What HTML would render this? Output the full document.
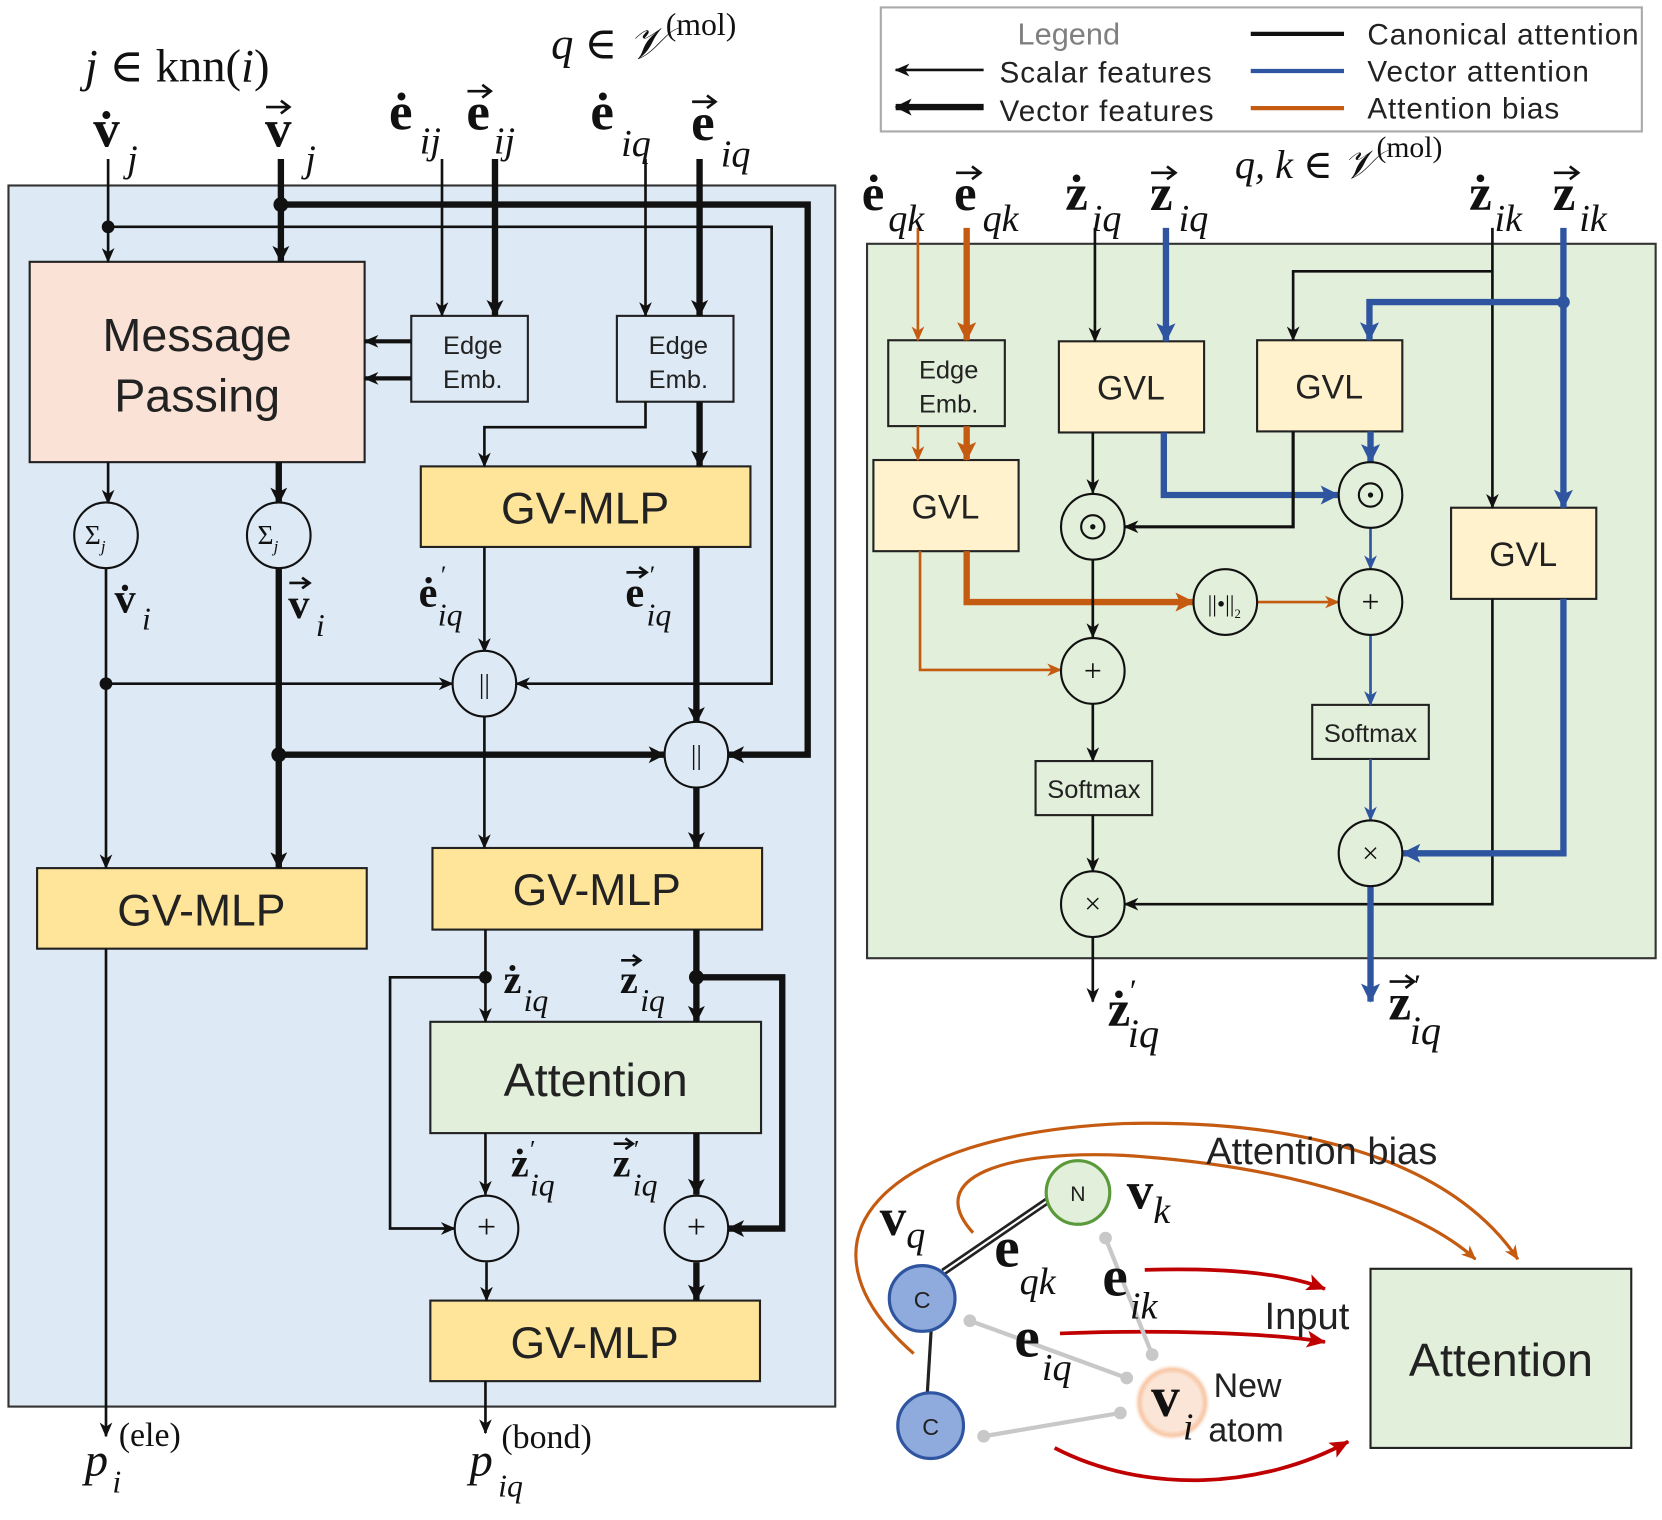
<!DOCTYPE html>
<html><head><meta charset="utf-8"><style>
html,body{margin:0;padding:0;background:#fff;}
svg{display:block;}
.s{font-family:"Liberation Sans",sans-serif;fill:#222;}
.m{font-family:"Liberation Serif","DejaVu Serif",serif;fill:#111;}
.b{font-weight:bold;}
.i{font-style:italic;}
.va{fill:none;stroke:#111;stroke-width:2.5;}
</style></head><body>
<svg width="1662" height="1520" viewBox="0 0 1568 1434" preserveAspectRatio="none" xmlns="http://www.w3.org/2000/svg">
<defs>
<marker id="a" markerUnits="userSpaceOnUse" markerWidth="14" markerHeight="12" refX="13" refY="6" orient="auto"><path d="M0,0 L14,6 L0,12 L4,6 Z" fill="#111"/></marker>
<marker id="A" markerUnits="userSpaceOnUse" markerWidth="16" markerHeight="16" refX="15" refY="8" orient="auto"><path d="M0,0 L16,8 L0,16 L4,8 Z" fill="#111"/></marker>
<marker id="bl" markerUnits="userSpaceOnUse" markerWidth="14" markerHeight="12" refX="13" refY="6" orient="auto"><path d="M0,0 L14,6 L0,12 L4,6 Z" fill="#2f55a0"/></marker>
<marker id="BL" markerUnits="userSpaceOnUse" markerWidth="18" markerHeight="18" refX="17" refY="9" orient="auto"><path d="M0,0 L18,9 L0,18 L4,9 Z" fill="#2f55a0"/></marker>
<marker id="or" markerUnits="userSpaceOnUse" markerWidth="14" markerHeight="12" refX="13" refY="6" orient="auto"><path d="M0,0 L14,6 L0,12 L4,6 Z" fill="#c55a11"/></marker>
<marker id="OR" markerUnits="userSpaceOnUse" markerWidth="18" markerHeight="18" refX="17" refY="9" orient="auto"><path d="M0,0 L18,9 L0,18 L4,9 Z" fill="#c55a11"/></marker>
<marker id="rd" markerUnits="userSpaceOnUse" markerWidth="18" markerHeight="16" refX="17" refY="8" orient="auto"><path d="M0,0 L18,8 L0,16 L4,8 Z" fill="#c00000"/></marker>
<radialGradient id="glow"><stop offset="0.75" stop-color="#fbe5d6"/><stop offset="0.88" stop-color="#f4b183" stop-opacity="0.7"/><stop offset="1" stop-color="#fbe5d6" stop-opacity="0"/></radialGradient>
</defs>

<!-- LEFT PANEL -->
<rect x="8" y="175" width="780" height="1152" fill="#dde9f5" stroke="#333" stroke-width="2"/>
<rect x="28" y="247" width="316" height="189" fill="#fae3d6" stroke="#222" stroke-width="2"/>
<text class="s" x="186" y="331" font-size="44" text-anchor="middle">Message</text>
<text class="s" x="186" y="388" font-size="44" text-anchor="middle">Passing</text>
<rect x="388" y="298" width="110" height="81" fill="#dde9f5" stroke="#222" stroke-width="2"/>
<text class="s" x="446" y="334" font-size="24" text-anchor="middle">Edge</text>
<text class="s" x="446" y="366" font-size="24" text-anchor="middle">Emb.</text>
<rect x="582" y="298" width="110" height="81" fill="#dde9f5" stroke="#222" stroke-width="2"/>
<text class="s" x="640" y="334" font-size="24" text-anchor="middle">Edge</text>
<text class="s" x="640" y="366" font-size="24" text-anchor="middle">Emb.</text>
<rect x="397" y="440" width="311" height="76" fill="#fee599" stroke="#222" stroke-width="2"/>
<text class="s" x="552" y="494" font-size="42" text-anchor="middle">GV-MLP</text>
<rect x="35" y="819" width="311" height="76" fill="#fee599" stroke="#222" stroke-width="2"/>
<text class="s" x="190" y="873" font-size="42" text-anchor="middle">GV-MLP</text>
<rect x="408" y="800" width="311" height="77" fill="#fee599" stroke="#222" stroke-width="2"/>
<text class="s" x="563" y="854" font-size="42" text-anchor="middle">GV-MLP</text>
<rect x="406" y="964" width="312" height="105" fill="#e2efda" stroke="#222" stroke-width="2"/>
<text class="s" x="562" y="1034" font-size="44" text-anchor="middle">Attention</text>
<rect x="406" y="1227" width="311" height="76" fill="#fee599" stroke="#222" stroke-width="2"/>
<text class="s" x="561" y="1281" font-size="42" text-anchor="middle">GV-MLP</text>

<g fill="none" stroke="#111">
<line x1="102" y1="150" x2="102" y2="247" stroke-width="2.5" marker-end="url(#a)"/>
<line x1="265" y1="150" x2="265" y2="247" stroke-width="6" marker-end="url(#A)"/>
<polyline points="102,214 728,214 728,645 487,645" stroke-width="2.5" marker-end="url(#a)"/>
<polyline points="265,193 762,193 762,712 687,712" stroke-width="6" marker-end="url(#A)"/>
<line x1="417" y1="150" x2="417" y2="298" stroke-width="2.5" marker-end="url(#a)"/>
<line x1="467" y1="150" x2="467" y2="298" stroke-width="6" marker-end="url(#A)"/>
<line x1="609" y1="150" x2="609" y2="298" stroke-width="2.5" marker-end="url(#a)"/>
<line x1="660" y1="150" x2="660" y2="298" stroke-width="6" marker-end="url(#A)"/>
<line x1="388" y1="322" x2="344" y2="322" stroke-width="4" marker-end="url(#a)"/>
<line x1="388" y1="357" x2="344" y2="357" stroke-width="4" marker-end="url(#a)"/>
<polyline points="609,379 609,403 457,403 457,440" stroke-width="2.5" marker-end="url(#a)"/>
<line x1="660" y1="379" x2="660" y2="440" stroke-width="6" marker-end="url(#A)"/>
<line x1="102" y1="436" x2="102" y2="475" stroke-width="2.5" marker-end="url(#a)"/>
<line x1="263" y1="436" x2="263" y2="475" stroke-width="6" marker-end="url(#A)"/>
<line x1="100" y1="535" x2="100" y2="819" stroke-width="2.5" marker-end="url(#a)"/>
<line x1="100" y1="645" x2="427" y2="645" stroke-width="2.5" marker-end="url(#a)"/>
<line x1="263" y1="535" x2="263" y2="819" stroke-width="6" marker-end="url(#A)"/>
<line x1="263" y1="712" x2="627" y2="712" stroke-width="6" marker-end="url(#A)"/>
<line x1="457" y1="516" x2="457" y2="615" stroke-width="2.5" marker-end="url(#a)"/>
<line x1="657" y1="516" x2="657" y2="682" stroke-width="6" marker-end="url(#A)"/>
<line x1="457" y1="675" x2="457" y2="800" stroke-width="2.5" marker-end="url(#a)"/>
<line x1="657" y1="742" x2="657" y2="800" stroke-width="6" marker-end="url(#A)"/>
<line x1="458" y1="877" x2="458" y2="964" stroke-width="2.5" marker-end="url(#a)"/>
<polyline points="458,922 368,922 368,1159 429,1159" stroke-width="2.5" marker-end="url(#a)"/>
<line x1="657" y1="877" x2="657" y2="964" stroke-width="6" marker-end="url(#A)"/>
<polyline points="657,922 738,922 738,1159 687,1159" stroke-width="6" marker-end="url(#A)"/>
<line x1="458" y1="1069" x2="458" y2="1127" stroke-width="2.5" marker-end="url(#a)"/>
<line x1="657" y1="1069" x2="657" y2="1127" stroke-width="6" marker-end="url(#A)"/>
<line x1="459" y1="1191" x2="459" y2="1227" stroke-width="2.5" marker-end="url(#a)"/>
<line x1="657" y1="1191" x2="657" y2="1227" stroke-width="6" marker-end="url(#A)"/>
<line x1="100" y1="895" x2="100" y2="1355" stroke-width="2.5" marker-end="url(#a)"/>
<line x1="458" y1="1303" x2="458" y2="1352" stroke-width="2.5" marker-end="url(#a)"/>
</g>
<g fill="#111">
<circle cx="102" cy="214" r="6"/><circle cx="265" cy="193" r="7"/>
<circle cx="100" cy="645" r="6"/><circle cx="263" cy="712" r="7"/>
<circle cx="458" cy="922" r="6"/><circle cx="657" cy="922" r="7"/>
</g>
<g fill="#dde9f5" stroke="#111" stroke-width="2">
<ellipse cx="100" cy="505" rx="30" ry="31"/><ellipse cx="263" cy="505" rx="30" ry="31"/>
<ellipse cx="457" cy="645" rx="30" ry="31"/><ellipse cx="657" cy="712" rx="30" ry="31"/>
<ellipse cx="459" cy="1159" rx="30" ry="31"/><ellipse cx="657" cy="1159" rx="30" ry="31"/>
</g>
<g class="m" font-size="26">
<text x="80" y="513">Σ<tspan font-size="16" class="i" dy="8">j</tspan></text>
<text x="243" y="513">Σ<tspan font-size="16" class="i" dy="8">j</tspan></text>
</g>
<text class="m" x="457" y="654" font-size="26" text-anchor="middle">||</text>
<text class="m" x="657" y="721" font-size="26" text-anchor="middle">||</text>
<text class="m" x="459" y="1168" font-size="32" text-anchor="middle">+</text>
<text class="m" x="657" y="1168" font-size="32" text-anchor="middle">+</text>

<!-- left labels -->
<g class="m">
<text x="80" y="77" font-size="44"><tspan class="i">j</tspan> ∈ knn(<tspan class="i">i</tspan>)</text>
<text x="520" y="55" font-size="42"><tspan class="i">q</tspan> ∈ <tspan class="i">𝒱</tspan><tspan font-size="30" dy="-22">(mol)</tspan></text>
<!-- v dot j -->
<text x="88" y="138" font-size="50" class="b">v̇</text><text x="120" y="162" font-size="36" class="i">j</text>
<!-- v vec j -->
<text x="250" y="138" font-size="50" class="b">v</text><text x="288" y="162" font-size="36" class="i">j</text>
<!-- e dot ij -->
<text x="367" y="122" font-size="50" class="b">ė</text><text x="396" y="145" font-size="36" class="i">ij</text>
<text x="440" y="122" font-size="50" class="b">e</text><text x="466" y="145" font-size="36" class="i">ij</text>
<text x="557" y="122" font-size="50" class="b">ė</text><text x="586" y="147" font-size="36" class="i">iq</text>
<text x="652" y="132" font-size="50" class="b">e</text><text x="680" y="157" font-size="36" class="i">iq</text>
<!-- mid -->
<text x="108" y="578" font-size="40" class="b">v̇</text><text x="134" y="594" font-size="30" class="i">i</text>
<text x="272" y="583" font-size="40" class="b">v</text><text x="298" y="600" font-size="30" class="i">i</text>
<text x="395" y="572" font-size="40" class="b">ė</text><text x="416" y="550" font-size="24">′</text><text x="413" y="590" font-size="30" class="i">iq</text>
<text x="590" y="572" font-size="40" class="b">e</text><text x="613" y="550" font-size="24">′</text><text x="610" y="590" font-size="30" class="i">iq</text>
<text x="475" y="937" font-size="38" class="b">ż</text><text x="494" y="954" font-size="30" class="i">iq</text>
<text x="585" y="937" font-size="38" class="b">z</text><text x="604" y="954" font-size="30" class="i">iq</text>
<text x="482" y="1110" font-size="38" class="b">ż</text><text x="500" y="1092" font-size="24">′</text><text x="500" y="1128" font-size="30" class="i">iq</text>
<text x="578" y="1110" font-size="38" class="b">z</text><text x="598" y="1092" font-size="24">′</text><text x="597" y="1128" font-size="30" class="i">iq</text>
<text x="80" y="1392" font-size="44" class="i">p</text><text x="106" y="1408" font-size="30" class="i">i</text>
<text x="112" y="1364" font-size="32">(ele)</text>
<text x="443" y="1392" font-size="44" class="i">p</text><text x="470" y="1412" font-size="30" class="i">iq</text>
<text x="473" y="1366" font-size="32">(bond)</text>
</g>
<g class="va">
<path d="M251,101 H272 M265,95 L273,101 L265,107"/>
<path d="M441,86 H462 M455,80 L463,86 L455,92"/>
<path d="M653,96 H674 M667,90 L675,96 L667,102"/>
<path d="M591,540 H609 M603,535 L610,540 L603,545"/>
<path d="M273,550 H291 M285,545 L292,550 L285,555"/>
<path d="M586,906 H603 M597,901 L604,906 L597,911"/>
<path d="M579,1079 H596 M590,1074 L597,1079 L590,1084"/>
</g>

<!-- LEGEND -->
<rect x="831" y="7" width="718" height="117" fill="#fff" stroke="#aaa" stroke-width="2"/>
<text class="s" x="960" y="42" font-size="29" style="fill:#808080">Legend</text>
<line x1="928" y1="66" x2="845" y2="66" stroke="#111" stroke-width="2.5" marker-end="url(#a)"/>
<line x1="928" y1="101" x2="845" y2="101" stroke="#111" stroke-width="6" marker-end="url(#A)"/>
<text class="s" x="943" y="78" font-size="28" textLength="200">Scalar features</text>
<text class="s" x="943" y="114" font-size="28" textLength="202">Vector features</text>
<line x1="1180" y1="32" x2="1268" y2="32" stroke="#111" stroke-width="4"/>
<line x1="1180" y1="67" x2="1268" y2="67" stroke="#2f55a0" stroke-width="4"/>
<line x1="1180" y1="102" x2="1268" y2="102" stroke="#c55a11" stroke-width="4"/>
<text class="s" x="1290" y="42" font-size="28" textLength="256">Canonical attention</text>
<text class="s" x="1290" y="77" font-size="28" textLength="209">Vector attention</text>
<text class="s" x="1290" y="112" font-size="28" textLength="181">Attention bias</text>

<!-- RIGHT PANEL -->
<rect x="818" y="230" width="744" height="674" fill="#e2efda" stroke="#333" stroke-width="2"/>
<rect x="838" y="321" width="110" height="81" fill="#e2efda" stroke="#222" stroke-width="2"/>
<text class="s" x="895" y="357" font-size="24" text-anchor="middle">Edge</text>
<text class="s" x="895" y="389" font-size="24" text-anchor="middle">Emb.</text>
<g fill="#fff2cc" stroke="#222" stroke-width="2">
<rect x="824" y="434" width="137" height="86"/><rect x="999" y="322" width="137" height="86"/>
<rect x="1186" y="321" width="137" height="86"/><rect x="1369" y="479" width="137" height="86"/>
</g>
<g class="s" font-size="32" text-anchor="middle">
<text x="892" y="489">GVL</text><text x="1067" y="377">GVL</text><text x="1254" y="376">GVL</text><text x="1437" y="534">GVL</text>
</g>
<rect x="1238" y="665" width="110" height="51" fill="#e2efda" stroke="#222" stroke-width="2"/>
<text class="s" x="1293" y="700" font-size="24" text-anchor="middle">Softmax</text>
<rect x="977" y="718" width="110" height="51" fill="#e2efda" stroke="#222" stroke-width="2"/>
<text class="s" x="1032" y="753" font-size="24" text-anchor="middle">Softmax</text>

<g fill="none">
<line x1="866" y1="215" x2="866" y2="321" stroke="#c55a11" stroke-width="2.5" marker-end="url(#or)"/>
<line x1="912" y1="215" x2="912" y2="321" stroke="#c55a11" stroke-width="6" marker-end="url(#OR)"/>
<line x1="866" y1="402" x2="866" y2="434" stroke="#c55a11" stroke-width="2.5" marker-end="url(#or)"/>
<line x1="912" y1="402" x2="912" y2="434" stroke="#c55a11" stroke-width="6" marker-end="url(#OR)"/>
<polyline points="868,520 868,632 1001,632" stroke="#c55a11" stroke-width="2.5" marker-end="url(#or)"/>
<polyline points="912,520 912,568 1126,568" stroke="#c55a11" stroke-width="6" marker-end="url(#OR)"/>
<line x1="1186" y1="568" x2="1263" y2="568" stroke="#c55a11" stroke-width="2.5" marker-end="url(#or)"/>
<line x1="1033" y1="215" x2="1033" y2="322" stroke="#111" stroke-width="2.5" marker-end="url(#a)"/>
<line x1="1100" y1="215" x2="1100" y2="322" stroke="#2f55a0" stroke-width="6" marker-end="url(#BL)"/>
<line x1="1408" y1="215" x2="1408" y2="479" stroke="#111" stroke-width="2.5" marker-end="url(#a)"/>
<polyline points="1408,256 1220,256 1220,321" stroke="#111" stroke-width="2.5" marker-end="url(#a)"/>
<line x1="1475" y1="215" x2="1475" y2="479" stroke="#2f55a0" stroke-width="6" marker-end="url(#BL)"/>
<polyline points="1475,285 1292,285 1292,321" stroke="#2f55a0" stroke-width="6" marker-end="url(#BL)"/>
<polyline points="1408,565 1408,853 1061,853" stroke="#111" stroke-width="2.5" marker-end="url(#a)"/>
<polyline points="1475,565 1475,805 1323,805" stroke="#2f55a0" stroke-width="6" marker-end="url(#BL)"/>
<line x1="1031" y1="408" x2="1031" y2="465" stroke="#111" stroke-width="2.5" marker-end="url(#a)"/>
<polyline points="1098,408 1098,467 1263,467" stroke="#2f55a0" stroke-width="6" marker-end="url(#BL)"/>
<polyline points="1220,407 1220,497 1061,497" stroke="#111" stroke-width="3" marker-end="url(#a)"/>
<line x1="1293" y1="407" x2="1293" y2="436" stroke="#2f55a0" stroke-width="6" marker-end="url(#BL)"/>
<line x1="1031" y1="528" x2="1031" y2="601" stroke="#111" stroke-width="2.5" marker-end="url(#a)"/>
<line x1="1293" y1="498" x2="1293" y2="537" stroke="#2f55a0" stroke-width="2.5" marker-end="url(#bl)"/>
<line x1="1293" y1="599" x2="1293" y2="665" stroke="#2f55a0" stroke-width="2.5" marker-end="url(#bl)"/>
<line x1="1293" y1="716" x2="1293" y2="774" stroke="#2f55a0" stroke-width="2.5" marker-end="url(#bl)"/>
<line x1="1293" y1="836" x2="1293" y2="945" stroke="#2f55a0" stroke-width="6" marker-end="url(#BL)"/>
<line x1="1031" y1="664" x2="1031" y2="718" stroke="#111" stroke-width="2.5" marker-end="url(#a)"/>
<line x1="1031" y1="769" x2="1031" y2="822" stroke="#111" stroke-width="2.5" marker-end="url(#a)"/>
<line x1="1031" y1="884" x2="1031" y2="945" stroke="#111" stroke-width="2.5" marker-end="url(#a)"/>
</g>
<circle cx="1475" cy="285" r="6" fill="#2f55a0"/>
<g fill="#e2efda" stroke="#111" stroke-width="2">
<ellipse cx="1031" cy="497" rx="30" ry="31"/><ellipse cx="1293" cy="467" rx="30" ry="31"/>
<ellipse cx="1156" cy="568" rx="30" ry="31"/><ellipse cx="1293" cy="568" rx="30" ry="31"/>
<ellipse cx="1031" cy="633" rx="30" ry="31"/><ellipse cx="1293" cy="805" rx="30" ry="31"/>
<ellipse cx="1031" cy="853" rx="30" ry="31"/>
<circle cx="1031" cy="497" r="11"/><circle cx="1293" cy="467" r="11"/>
</g>
<circle cx="1031" cy="497" r="2.5" fill="#111"/><circle cx="1293" cy="467" r="2.5" fill="#111"/>
<g class="m" text-anchor="middle">
<text x="1031" y="643" font-size="30">+</text><text x="1293" y="578" font-size="30">+</text>
<text x="1293" y="814" font-size="28">×</text><text x="1031" y="862" font-size="28">×</text>
<text x="1155" y="577" font-size="22">||•||<tspan font-size="12" dy="6">2</tspan></text>
</g>
<g class="m">
<text x="813" y="198" font-size="48" class="b">ė</text><text x="838" y="218" font-size="36" class="i">qk</text>
<text x="900" y="198" font-size="48" class="b">e</text><text x="927" y="218" font-size="36" class="i">qk</text>
<text x="1005" y="198" font-size="48" class="b">ż</text><text x="1030" y="218" font-size="36" class="i">iq</text>
<text x="1085" y="198" font-size="48" class="b">z</text><text x="1112" y="218" font-size="36" class="i">iq</text>
<text x="1165" y="168" font-size="38"><tspan class="i">q, k</tspan> ∈ <tspan class="i">𝒱</tspan><tspan font-size="28" dy="-20">(mol)</tspan></text>
<text x="1386" y="198" font-size="48" class="b">ż</text><text x="1410" y="218" font-size="36" class="i">ik</text>
<text x="1465" y="198" font-size="48" class="b">z</text><text x="1490" y="218" font-size="36" class="i">ik</text>
<text x="1045" y="968" font-size="48" class="b">ż</text><text x="1066" y="945" font-size="30">′</text><text x="1064" y="988" font-size="38" class="i">iq</text>
<text x="1310" y="962" font-size="48" class="b">z</text><text x="1334" y="940" font-size="30">′</text><text x="1330" y="985" font-size="38" class="i">iq</text>
</g>
<g class="va">
<path d="M902,163 H924 M917,157 L925,163 L917,169"/>
<path d="M1086,163 H1108 M1101,157 L1109,163 L1101,169"/>
<path d="M1466,163 H1488 M1481,157 L1489,163 L1481,169"/>
<path d="M1311,926 H1333 M1326,920 L1334,926 L1326,932"/>
</g>

<!-- MOLECULE -->
<g fill="none">
<path d="M862,1277 C740,1170 830,1070 1060,1060 C1260,1055 1380,1110 1432,1188" stroke="#c55a11" stroke-width="3" marker-end="url(#or)"/>
<path d="M918,1163 C870,1110 950,1085 1060,1090 C1220,1100 1340,1140 1392,1188" stroke="#c55a11" stroke-width="3" marker-end="url(#or)"/>
<path d="M1080,1198 C1150,1196 1210,1200 1250,1216" stroke="#c00000" stroke-width="3.5" marker-end="url(#rd)"/>
<path d="M1000,1258 C1100,1254 1200,1258 1250,1266" stroke="#c00000" stroke-width="3.5" marker-end="url(#rd)"/>
<path d="M995,1366 C1080,1410 1190,1405 1272,1360" stroke="#c00000" stroke-width="3.5" marker-end="url(#rd)"/>
<line x1="1043" y1="1168" x2="1087" y2="1278" stroke="#c8c8c8" stroke-width="4"/>
<line x1="915" y1="1246" x2="1063" y2="1300" stroke="#c8c8c8" stroke-width="4"/>
<line x1="928" y1="1355" x2="1057" y2="1333" stroke="#c8c8c8" stroke-width="4"/>
<line x1="880" y1="1230" x2="873" y2="1345" stroke="#222" stroke-width="3"/>
<line x1="890" y1="1200" x2="988" y2="1133" stroke="#222" stroke-width="7"/>
<line x1="890" y1="1200" x2="988" y2="1133" stroke="#fff" stroke-width="2"/>
</g>
<g fill="#c8c8c8"><circle cx="1043" cy="1168" r="6"/><circle cx="1087" cy="1278" r="6"/><circle cx="915" cy="1246" r="6"/><circle cx="1063" cy="1300" r="6"/><circle cx="928" cy="1355" r="6"/><circle cx="1057" cy="1333" r="6"/></g>
<circle cx="1017" cy="1125" r="30" fill="#e2efda" stroke="#5a9a3a" stroke-width="3"/>
<circle cx="870" cy="1225" r="31" fill="#8faadc" stroke="#2f55a0" stroke-width="3"/>
<circle cx="878" cy="1345" r="31" fill="#8faadc" stroke="#2f55a0" stroke-width="3"/>
<circle cx="1106" cy="1323" r="36" fill="url(#glow)"/>
<g class="s" text-anchor="middle"><text x="1017" y="1133" font-size="20">N</text><text x="870" y="1234" font-size="22">C</text><text x="878" y="1354" font-size="22">C</text></g>
<rect x="1293" y="1197" width="246" height="169" fill="#e2efda" stroke="#222" stroke-width="2"/>
<text class="s" x="1416" y="1298" font-size="44" text-anchor="middle">Attention</text>
<text class="s" x="1138" y="1098" font-size="36">Attention bias</text>
<text class="s" x="1193" y="1254" font-size="36">Input</text>
<text class="s" x="1145" y="1318" font-size="32">New</text>
<text class="s" x="1140" y="1360" font-size="32">atom</text>
<g class="m">
<text x="830" y="1165" font-size="50" class="b">v</text><text x="855" y="1177" font-size="36" class="i">q</text>
<text x="1063" y="1140" font-size="50" class="b">v</text><text x="1088" y="1154" font-size="36" class="i">k</text>
<text x="938" y="1195" font-size="54" class="b">e</text><text x="962" y="1221" font-size="36" class="i">qk</text>
<text x="1040" y="1222" font-size="54" class="b">e</text><text x="1066" y="1244" font-size="36" class="i">ik</text>
<text x="957" y="1280" font-size="54" class="b">e</text><text x="983" y="1302" font-size="36" class="i">iq</text>
<text x="1086" y="1336" font-size="54" class="b">v</text><text x="1116" y="1358" font-size="36" class="i">i</text>
</g>
</svg>
</body></html>
